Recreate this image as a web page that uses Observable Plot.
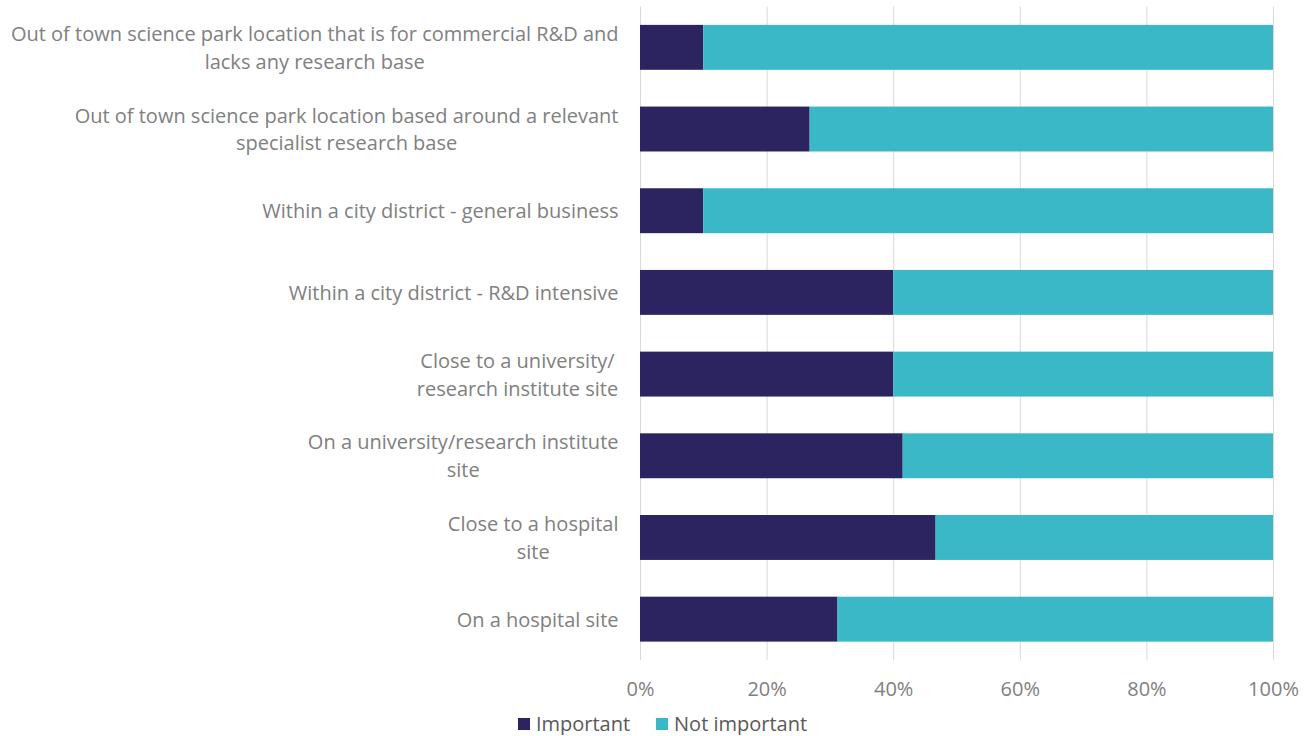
<!DOCTYPE html>
<html><head><meta charset="utf-8">
<script src="https://cdn.jsdelivr.net/npm/d3@7"></script>
<script src="https://cdn.jsdelivr.net/npm/@observablehq/plot@0.6"></script>
<style>
body{margin:0;background:#fff;font-family:"Open Sans",sans-serif;}
#legend{width:1309px;display:flex;justify-content:center;padding-left:16px;box-sizing:border-box;padding-top:8px;line-height:22px;font-size:20px;color:#595959;}
.item{display:flex;align-items:center;margin:0 13px;}
.sw{width:12px;height:12px;margin-right:6px;display:inline-block;}
</style></head><body><div id="chart"></div><div id="legend"></div>
<script>
const categories = [
  "Out of town science park location that is for commercial R&D and lacks any research base",
  "Out of town science park location based around a relevant specialist research base",
  "Within a city district - general business",
  "Within a city district - R&D intensive",
  "Close to a university/ research institute site",
  "On a university/research institute site",
  "Close to a hospital site",
  "On a hospital site"
];
const tickLabels = [
  "Out of town science park location that is for commercial R&D and\nlacks any research base",
  "Out of town science park location based around a relevant\nspecialist research base",
  "Within a city district - general business",
  "Within a city district - R&D intensive",
  "Close to a university/\nresearch institute site",
  "On a university/research institute\nsite",
  "Close to a hospital\nsite",
  "On a hospital site"
];
const seriesNames = ["Important", "Not important"];
const seriesColors = ["#2b2460", "#3bb8c7"];
const important = [10, 26.8, 10, 40, 40, 41.5, 46.7, 31.2];
const notImportant = [90, 73.2, 90, 60, 60, 58.5, 53.3, 68.8];
const xTicks = [0, 20, 40, 60, 80, 100];

const rows = categories.flatMap((c, i) => [
  {category: c, series: seriesNames[0], value: important[i]},
  {category: c, series: seriesNames[1], value: notImportant[i]}
]);

const chart = Plot.plot({
  width: 1309, height: 705,
  marginLeft: 640, marginRight: 36, marginTop: 6.5, marginBottom: 45,
  style: {fontFamily: '"Open Sans", sans-serif', fontSize: "20px", background: "white", color: "#808080"},
  x: {domain: [0, 100], label: null, axis: null},
  y: {domain: categories, paddingInner: 0.45, paddingOuter: 0.225, round: false, axis: null},
  color: {domain: seriesNames, range: seriesColors},
  marks: [
    Plot.gridX(xTicks, {stroke: "#d9d9d9", strokeOpacity: 1, strokeWidth: 1}),
    Plot.axisX(xTicks, {tickSize: 0, tickPadding: 21, tickFormat: d => d + "%", label: null, fill: "#808080", fontSize: 20}),
    Plot.barX(rows, {x: "value", y: "category", fill: "series"}),
    Plot.text(categories, {y: d => d, frameAnchor: "left", text: (d, i) => tickLabels[i], textAnchor: "end", dx: -22, dy: -2, lineHeight: 1.4, fill: "#808080", fontSize: 20, className: "ylab"})
  ]
});
document.getElementById("chart").appendChild(chart);

// center the wrapped lines of multi-line labels under each other, right edge kept
chart.querySelectorAll(".ylab text").forEach(t => {
  const spans = t.querySelectorAll("tspan");
  if (spans.length > 1) {
    const w = t.getBBox().width;
    t.setAttribute("text-anchor", "middle");
    spans.forEach(s => s.setAttribute("x", -w / 2));
  }
});

const legend = document.getElementById("legend");
seriesNames.forEach((s, i) => {
  const it = document.createElement("div");
  it.className = "item";
  it.innerHTML = `<span class="sw" style="background:${seriesColors[i]}"></span><span>${s}</span>`;
  legend.appendChild(it);
});
</script>
</body></html>
